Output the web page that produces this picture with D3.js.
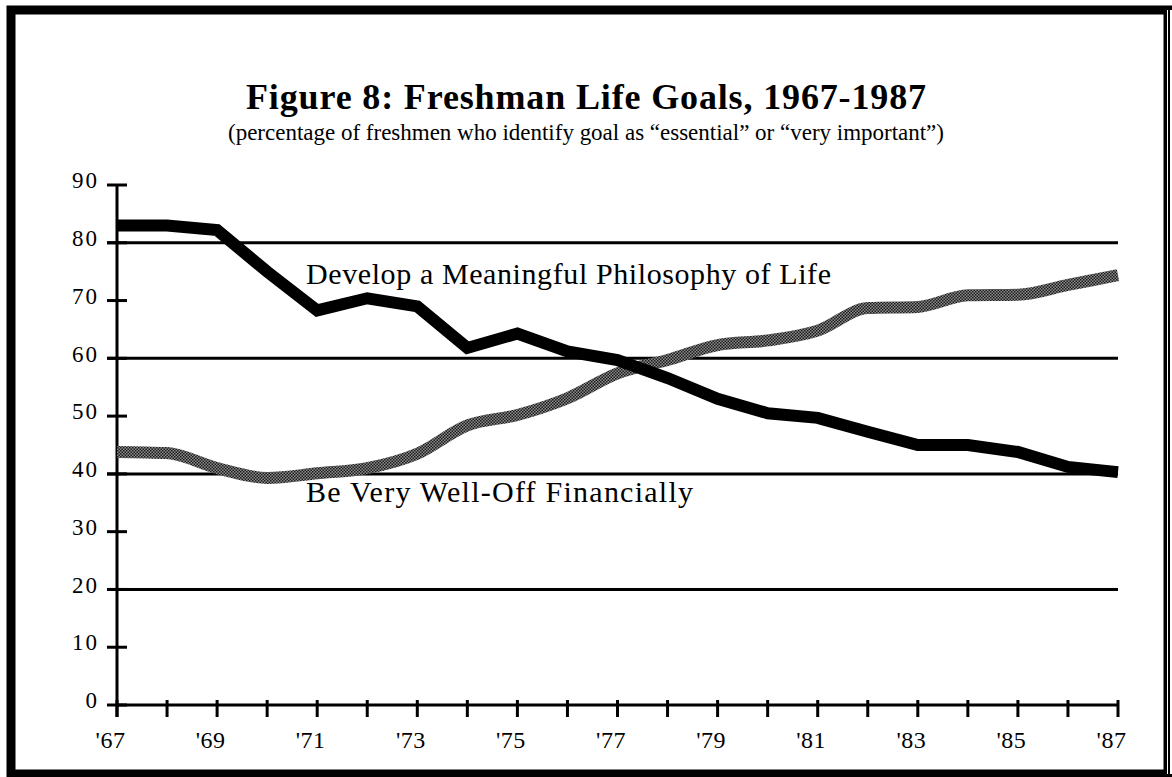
<!DOCTYPE html>
<html>
<head>
<meta charset="utf-8">
<script src="https://cdn.jsdelivr.net/npm/d3@7"></script>
<style>
  html, body { margin: 0; padding: 0; background: #fff; }
  svg { display: block; }
</style>
</head>
<body>
<div id="chart"></div>
<script>
// Freshman life goals, 1967-1987 (percent "essential" or "very important")
const years = [1967, 1968, 1969, 1970, 1971, 1972, 1973, 1974, 1975, 1976, 1977,
  1978, 1979, 1980, 1981, 1982, 1983, 1984, 1985, 1986, 1987];
const philosophy = [83, 83, 82.2, 75, 68.3, 70.4, 69, 61.8, 64.3, 61.2, 59.7,
  56.6, 53, 50.5, 49.7, 47.3, 45, 45, 43.8, 41.2, 40.3];
const wellOff = [43.8, 43.6, 41, 39.3, 40.1, 41, 43.5, 48.4, 50.2, 53.1, 57.4,
  59.7, 62.3, 63.1, 64.8, 68.7, 68.9, 70.9, 71, 72.7, 74.4];
const yTicks = [0, 10, 20, 30, 40, 50, 60, 70, 80, 90];
const gridValues = [20, 40, 60, 80];
const xLabelYears = [1967, 1969, 1971, 1973, 1975, 1977, 1979, 1981, 1983, 1985, 1987];

const width = 1172;
const height = 777;
const serif = "'Liberation Serif', 'Times New Roman', serif";

const x = d3.scaleLinear().domain([1967, 1987]).range([117, 1118]);
const y = d3.scaleLinear().domain([0, 90]).range([705, 185]);

const svg = d3.select('#chart').append('svg')
  .attr('width', width)
  .attr('height', height)
  .style('font-family', serif);

// checkered fill for the grey line
const defs = svg.append('defs');
const pat = defs.append('pattern')
  .attr('id', 'checker')
  .attr('patternUnits', 'userSpaceOnUse')
  .attr('width', 3).attr('height', 3);
pat.append('rect').attr('width', 3).attr('height', 3).attr('fill', '#8c8c8c');
pat.append('rect').attr('width', 1.5).attr('height', 1.5).attr('fill', '#1a1a1a');
pat.append('rect').attr('x', 1.5).attr('y', 1.5).attr('width', 1.5).attr('height', 1.5).attr('fill', '#1a1a1a');

svg.append('rect').attr('width', width).attr('height', height).attr('fill', '#fff');

// frame
svg.append('rect')
  .attr('x', 11).attr('y', 10)
  .attr('width', 1157).attr('height', 764)
  .attr('fill', 'none')
  .attr('stroke', '#000')
  .attr('stroke-width', 9);
svg.append('line')
  .attr('x1', 1170).attr('x2', 1170).attr('y1', 10).attr('y2', 774)
  .attr('stroke', '#fff').attr('stroke-width', 6);
svg.append('line')
  .attr('x1', 1169).attr('x2', 1169).attr('y1', 6).attr('y2', 777)
  .attr('stroke', '#000').attr('stroke-width', 2);

// title
svg.append('text')
  .attr('x', 586).attr('y', 109)
  .attr('text-anchor', 'middle')
  .attr('font-size', 36)
  .attr('font-weight', 'bold')
  .attr('textLength', 680)
  .attr('lengthAdjust', 'spacing')
  .text('Figure 8: Freshman Life Goals, 1967-1987');

svg.append('text')
  .attr('x', 586).attr('y', 140)
  .attr('text-anchor', 'middle')
  .attr('font-size', 23)
  .attr('textLength', 716)
  .attr('lengthAdjust', 'spacing')
  .text('(percentage of freshmen who identify goal as \u201cessential\u201d or \u201cvery important\u201d)');

// gridlines
svg.append('g')
  .selectAll('line')
  .data(gridValues)
  .join('line')
  .attr('x1', 107).attr('x2', x(1987))
  .attr('y1', d => y(d)).attr('y2', d => y(d))
  .attr('stroke', '#000')
  .attr('stroke-width', 3);

// y axis
svg.append('line')
  .attr('x1', x(1967)).attr('x2', x(1967))
  .attr('y1', y(90)).attr('y2', y(0) + 12)
  .attr('stroke', '#000').attr('stroke-width', 3);

svg.append('g')
  .selectAll('line')
  .data(yTicks)
  .join('line')
  .attr('x1', 107).attr('x2', 127)
  .attr('y1', d => y(d)).attr('y2', d => y(d))
  .attr('stroke', '#000').attr('stroke-width', 3);

svg.append('g')
  .attr('transform', 'translate(99,0)')
  .call(d3.axisLeft(y).tickValues(yTicks).tickSize(0).tickPadding(0))
  .call(g => g.select('.domain').remove())
  .call(g => g.selectAll('.tick text')
    .attr('font-family', serif)
    .attr('font-size', 23)
    .attr('letter-spacing', 2)
    .attr('fill', '#000')
    .attr('dy', '0.12em'));

// x axis
svg.append('line')
  .attr('x1', x(1967)).attr('x2', x(1987))
  .attr('y1', y(0)).attr('y2', y(0))
  .attr('stroke', '#000').attr('stroke-width', 3);

svg.append('g')
  .selectAll('line')
  .data(years)
  .join('line')
  .attr('x1', d => x(d)).attr('x2', d => x(d))
  .attr('y1', y(0) - 5).attr('y2', y(0) + 12)
  .attr('stroke', '#000').attr('stroke-width', 3);

svg.append('g')
  .attr('transform', `translate(-7,${y(0)})`)
  .call(d3.axisBottom(x).tickValues(xLabelYears).tickSize(0).tickPadding(26)
    .tickFormat(d => "'" + String(d).slice(2)))
  .call(g => g.select('.domain').remove())
  .call(g => g.selectAll('.tick text')
    .attr('font-family', serif)
    .attr('font-size', 24)
    .attr('letter-spacing', 0.5)
    .attr('fill', '#000'));

// lines
const rows = years.map((yr, i) => ({ year: yr, phil: philosophy[i], money: wellOff[i] }));

svg.append('path')
  .datum(rows)
  .attr('fill', 'none')
  .attr('stroke', 'url(#checker)')
  .attr('stroke-width', 12)
  .attr('stroke-linejoin', 'round')
  .attr('d', d3.line().x(d => x(d.year)).y(d => y(d.money)).curve(d3.curveMonotoneX));

svg.append('path')
  .datum(rows)
  .attr('fill', 'none')
  .attr('stroke', '#000')
  .attr('stroke-width', 12)
  .attr('stroke-linejoin', 'miter')
  .attr('d', d3.line().x(d => x(d.year)).y(d => y(d.phil)));

// series labels
svg.append('text')
  .attr('x', 306).attr('y', 284)
  .attr('font-size', 30)
  .attr('textLength', 525)
  .attr('lengthAdjust', 'spacing')
  .text('Develop a Meaningful Philosophy of Life');

svg.append('text')
  .attr('x', 306).attr('y', 502)
  .attr('font-size', 30)
  .attr('textLength', 387)
  .attr('lengthAdjust', 'spacing')
  .text('Be Very Well-Off Financially');
</script>
</body>
</html>
